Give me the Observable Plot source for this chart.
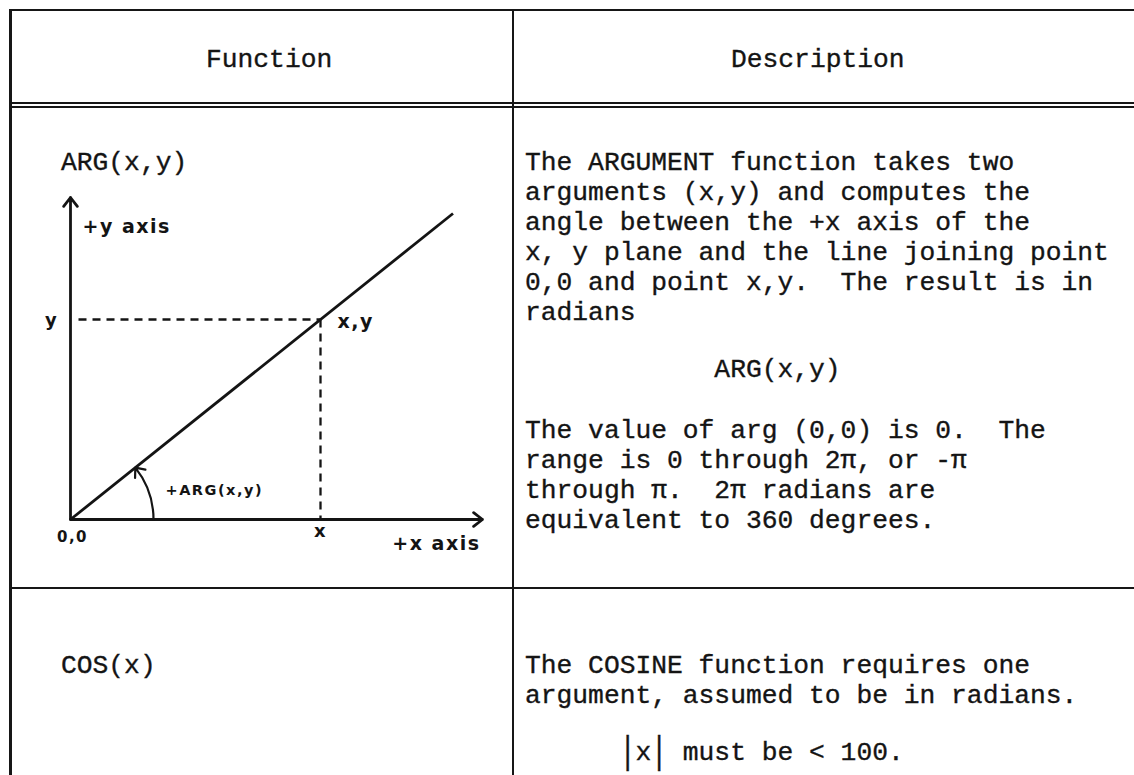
<!DOCTYPE html>
<html>
<head>
<meta charset="utf-8">
<script src="https://cdn.jsdelivr.net/npm/d3@7"></script>
<script src="https://cdn.jsdelivr.net/npm/@observablehq/plot@0.6"></script>
<style>
html, body { margin: 0; padding: 0; background: #fff; }
#page { position: relative; width: 1134px; height: 775px; overflow: hidden; background: #fff;
        font-family: "Liberation Mono", "DejaVu Sans Mono", monospace; color: #141414; }
.rule { position: absolute; background: #161616; }
.txt { position: absolute; white-space: pre; font-size: 26.3px; line-height: 30px; margin: 0;
       -webkit-text-stroke: 0.35px #141414; }
.bar { display: inline-block; transform: scaleY(1.45); }
#diagram { position: absolute; left: 10px; top: 150px; letter-spacing: 1.5px; }
</style>
</head>
<body>
<div id="page"></div>
<script>
// ---- table text ----
const headers = ["Function", "Description"];
const functionNames = ["ARG(x,y)", "COS(x)"];
const argDescription = [
  "The ARGUMENT function takes two",
  "arguments (x,y) and computes the",
  "angle between the +x axis of the",
  "x, y plane and the line joining point",
  "0,0 and point x,y.  The result is in",
  "radians"
];
const argFormula = "ARG(x,y)";
const argRange = [
  "The value of arg (0,0) is 0.  The",
  "range is 0 through 2\u03c0, or -\u03c0",
  "through \u03c0.  2\u03c0 radians are",
  "equivalent to 360 degrees."
];
const cosDescription = [
  "The COSINE function requires one",
  "argument, assumed to be in radians."
];
const cosLimit = ["x", "must be < 100."];

// ---- diagram values (one unit = one grid step) ----
const pointXY = {x: 5, y: 4};          // the point x,y
const lineEnd = {x: 7.65, y: 6.12};    // far end of the ray through 0,0 and x,y
const axisEnd = {x: 8.24, y: 6.44};    // lengths of the +x and +y axes
const arcRadius = 1.66;                // radius of the angle arc

// ---------------------------------------------------------------
const page = document.getElementById("page");
const FS = 26.3, LH = 30;
const BASE = (LH - 1.133 * FS) / 2 + 0.833 * FS; // line-box top to baseline
const PITCH = 0.6 * FS;

function rule(left, top, width, height) {
  const d = document.createElement("div");
  d.className = "rule";
  Object.assign(d.style, {left: left + "px", top: top + "px", width: width + "px", height: height + "px"});
  page.appendChild(d);
  return d;
}
function textBlock(lines, left, baseline) {
  const d = document.createElement("div");
  d.className = "txt";
  d.style.left = left + "px";
  d.style.top = (baseline - BASE) + "px";
  d.textContent = lines.join("\n");
  page.appendChild(d);
  return d;
}

// table rules
rule(9, 8.5, 1125, 2.5);        // top border
rule(9, 8.5, 2.5, 767);         // left border
rule(511.5, 8.5, 2.5, 767);     // column divider
rule(9, 102, 1125, 1.6);        // header double rule
rule(9, 106.2, 1125, 1.6);
rule(9, 587, 1125, 2);          // row separator

// headers
textBlock([headers[0]], 206, 67);
textBlock([headers[1]], 731, 67);

// function names
textBlock([functionNames[0]], 61, 170);
textBlock([functionNames[1]], 61, 673);

// descriptions
textBlock(argDescription, 525, 170);
textBlock([argFormula], 525 + 12 * PITCH, 377);
textBlock(argRange, 525, 438);
textBlock(cosDescription, 525, 673);
{
  const d = textBlock([""], 525 + 6 * PITCH, 760);
  d.innerHTML = '<span class="bar">|</span>' + cosLimit[0] + '<span class="bar">|</span> ' + cosLimit[1];
}

// ---- diagram drawn with Plot ----
const theta = Math.atan2(pointXY.y, pointXY.x);
const arcEnd = {x: arcRadius * Math.cos(theta), y: arcRadius * Math.sin(theta)};
const ink = "#141414";
const hand = {fontFamily: "DejaVu Sans, sans-serif", fill: ink, fontWeight: "bold"};

const diagram = Plot.plot({
  width: 490,
  height: 430,
  margin: 0,
  x: {domain: [-1.2, 8.6], axis: null},
  y: {domain: [-1.22, 7.38], axis: null},
  style: {background: "transparent", overflow: "visible"},
  marks: [
    // axes
    Plot.arrow([{x1: 0, y1: 0, x2: 0, y2: axisEnd.y}, {x1: 0, y1: 0, x2: axisEnd.x, y2: 0}],
      {x1: "x1", y1: "y1", x2: "x2", y2: "y2", stroke: ink, strokeWidth: 2.8, headLength: 6, headAngle: 75}),
    // ray through the point
    Plot.link([{x1: 0, y1: 0, x2: lineEnd.x, y2: lineEnd.y}],
      {x1: "x1", y1: "y1", x2: "x2", y2: "y2", stroke: ink, strokeWidth: 2.8}),
    // dashed projections
    Plot.link([{x1: 0.16, y1: pointXY.y, x2: pointXY.x, y2: pointXY.y},
               {x1: pointXY.x, y1: pointXY.y, x2: pointXY.x, y2: 0}],
      {x1: "x1", y1: "y1", x2: "x2", y2: "y2", stroke: ink, strokeWidth: 2.3, strokeDasharray: "8,6"}),
    // angle arc
    Plot.arrow([{x1: arcRadius, y1: 0, x2: arcEnd.x, y2: arcEnd.y}],
      {x1: "x1", y1: "y1", x2: "x2", y2: "y2", bend: -theta * 90 / Math.PI,
       stroke: ink, strokeWidth: 2.2, headLength: 7, headAngle: 80}),
    // hand lettering
    Plot.text([{x: 0, y: axisEnd.y}], {x: "x", y: "y", text: () => "+y axis", dx: 12, dy: 29, textAnchor: "start", fontSize: 19, ...hand}),
    Plot.text([{x: 0, y: pointXY.y}], {x: "x", y: "y", text: () => "y", dx: -19, dy: 1, fontSize: 18, ...hand}),
    Plot.text([pointXY], {x: "x", y: "y", text: () => "x,y", dx: 17, dy: 2, textAnchor: "start", fontSize: 19, ...hand}),
    Plot.text([{x: pointXY.x, y: 0}], {x: "x", y: "y", text: () => "x", dx: 0, dy: 12, fontSize: 18, ...hand}),
    Plot.text([{x: 0, y: 0}], {x: "x", y: "y", text: () => "0,0", dx: 2, dy: 18, fontSize: 15, ...hand}),
    Plot.text([{x: axisEnd.x, y: 0}], {x: "x", y: "y", text: () => "+x axis", dx: -2, dy: 24, textAnchor: "end", fontSize: 19, ...hand}),
    Plot.text([{x: arcRadius, y: 0}], {x: "x", y: "y", text: () => "+ARG(x,y)", dx: 12, dy: -29, textAnchor: "start", fontSize: 14.5, ...hand})
  ]
});
diagram.id = "diagram";
page.appendChild(diagram);
</script>
</body>
</html>
